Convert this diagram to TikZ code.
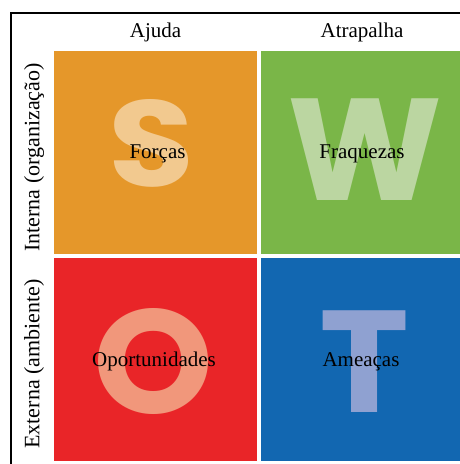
\documentclass[tikz,border=0pt]{standalone}
\usepackage{fontspec}
\usepackage{graphicx}
\setmainfont{Liberation Serif}
\newfontfamily\letterfont{Poppins}

\definecolor{qorange}{HTML}{E5972A}
\definecolor{qgreen}{HTML}{7AB648}
\definecolor{qred}{HTML}{E92528}
\definecolor{qblue}{HTML}{1267B1}
\definecolor{lS}{HTML}{F2C98F}
\definecolor{lW}{HTML}{BBD6A1}
\definecolor{lO}{HTML}{F1977B}
\definecolor{lT}{HTML}{8FA1D1}

\tikzset{
  quad/.style={draw=none, inner sep=0pt, outer sep=0pt},
  bigletter/.style={inner sep=0pt, outer sep=0pt, font=\letterfont\bfseries},
  label/.style={inner sep=0pt, font=\fontsize{21}{25}\selectfont, text=black},
  sidelabel/.style={label, font=\fontsize{22}{26}\selectfont},
  frame/.style={draw=black, line width=2pt}
}

\begin{document}
\begin{tikzpicture}[x=1pt, y=-1pt]
  \useasboundingbox (0,0) rectangle (460,464);

  % quadrants
  \node[quad, fill=qorange, minimum width=203pt, minimum height=202.5pt] (fs) at (155.5,152.25) {};
  \node[quad, fill=qgreen, minimum width=199pt, minimum height=202.5pt] (fw) at (360.5,152.25) {};
  \node[quad, fill=qred, minimum width=203pt, minimum height=203.5pt] (fo) at (155.5,359.25) {};
  \node[quad, fill=qblue, minimum width=199pt, minimum height=203.5pt] (ft) at (360.5,359.25) {};

  % large initials
  \node[bigletter, text=lS] (ls) at (151.5,143.5) {\resizebox{86pt}{87pt}{S}};
  \node[bigletter, text=lW] (lw) at (365.5,149.2) {\resizebox{155pt}{101.7pt}{W}};
  \node[bigletter, text=lO] (lo) at (153.7,361.5) {\resizebox{120pt}{105pt}{O}};
  \node[bigletter, text=lT] (lt) at (364.2,361.9) {\resizebox{90pt}{101.7pt}{T}};

  % quadrant names
  \node[label, anchor=base] (ts) at (157.5,158) {Forças};
  \node[label, anchor=base] (tw) at (362,158) {Fraquezas};
  \node[label, anchor=base] (to) at (154,366) {Oportunidades};
  \node[label, anchor=base] (tt) at (361,366) {Ameaças};

  % column and row headers
  \node[label, anchor=base] (ca) at (155.5,37) {Ajuda};
  \node[label, anchor=base] (cb) at (362,37) {Atrapalha};
  \node[sidelabel, rotate=90] (ra) at (34,157.5) {Interna (organização)};
  \node[sidelabel, rotate=90] (rb) at (34,364) {Externa (ambiente)};

  % outer frame
  \coordinate (corner) at (11,13);
  \coordinate (topend) at (460,13);
  \coordinate (leftend) at (11,464);
  \draw[frame] (topend) -- (corner) -- (leftend);
\end{tikzpicture}
\end{document}
